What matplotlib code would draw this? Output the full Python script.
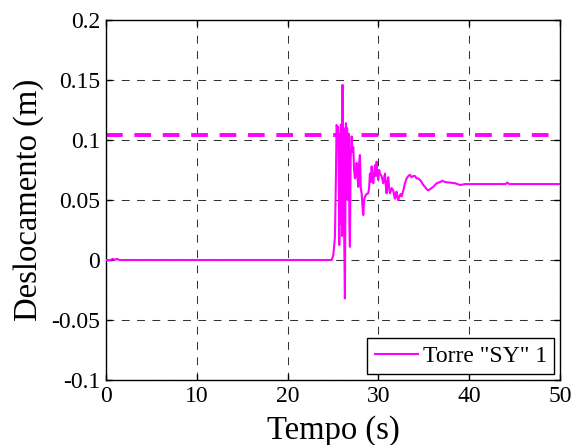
import matplotlib
matplotlib.use("Agg")
import matplotlib.pyplot as plt

plt.rcParams['font.family'] = ['Liberation Serif', 'DejaVu Serif']

# tower displacement time history, one line per 10 samples
tempo = [
    0.0, 0.5, 0.8, 1.0, 1.2, 1.5, 10.0, 20.0, 24.86, 25.04,
    25.22, 25.33, 25.40, 25.51, 25.59, 25.65, 25.70, 25.77, 25.82, 25.88,
    25.95, 26.00, 26.06, 26.12, 26.17, 26.24, 26.32, 26.38, 26.43, 26.50,
    26.56, 26.62, 26.69, 26.75, 26.81, 26.87, 26.95, 27.06, 27.15, 27.24,
    27.33, 27.42, 27.51, 27.61, 27.70, 27.79, 27.88, 27.97, 28.06, 28.16,
    28.25, 28.34, 28.43, 28.52, 28.70, 28.89, 28.98, 29.07, 29.16, 29.26,
    29.35, 29.44, 29.53, 29.63, 29.72, 29.81, 29.90, 29.99, 30.09, 30.18,
    30.36, 30.54, 30.63, 30.73, 30.82, 30.91, 31.00, 31.09, 31.18, 31.28,
    31.46, 31.64, 31.73, 31.83, 31.92, 32.01, 32.10, 32.20, 32.29, 32.38,
    32.47, 32.56, 32.75, 32.93, 33.11, 33.30, 33.48, 33.66, 33.85, 34.03,
    34.21, 34.40, 34.67, 34.95, 35.13, 35.32, 35.50, 35.68, 36.05, 36.42,
    36.78, 37.05, 37.33, 37.89, 38.44, 38.99, 39.54, 40.09, 40.82, 42.0,
    44.0, 44.2, 44.4, 46.0, 48.0, 50.0,
]
deslocamento = [
    0.0, 0.0, 0.001, 0.0, 0.001, 0.0, 0.0, 0.0, 0.0, 0.004,
    0.019, 0.069, 0.1125, 0.110, 0.111, 0.060, 0.0125, 0.105, 0.030, 0.113,
    0.090, 0.020, 0.146, 0.040, 0.110, 0.020, -0.032, 0.060, 0.114, 0.080,
    0.110, 0.050, 0.075, 0.105, 0.030, 0.011, 0.085, 0.103, 0.090, 0.094,
    0.075, 0.068, 0.070, 0.081, 0.070, 0.061, 0.080, 0.0875, 0.060, 0.0556,
    0.045, 0.0375, 0.050, 0.0528, 0.055, 0.0556, 0.060, 0.072, 0.065, 0.078,
    0.070, 0.064, 0.072, 0.079, 0.070, 0.082, 0.072, 0.067, 0.075, 0.072,
    0.070, 0.064, 0.068, 0.072, 0.062, 0.0556, 0.065, 0.069, 0.060, 0.0556,
    0.060, 0.058, 0.054, 0.051, 0.056, 0.057, 0.052, 0.050, 0.053, 0.054,
    0.055, 0.053, 0.058, 0.064, 0.068, 0.070, 0.071, 0.069, 0.070, 0.070,
    0.068, 0.068, 0.066, 0.0625, 0.061, 0.059, 0.058, 0.059, 0.061, 0.064,
    0.065, 0.066, 0.065, 0.0645, 0.064, 0.0625, 0.0633, 0.0633, 0.0633, 0.0633,
    0.0633, 0.0645, 0.0633, 0.0633, 0.0633, 0.0633,
]
limite = 0.104
legenda = 'Torre "SY" 1'

fig = plt.figure(figsize=(5.75, 4.45), dpi=100)
ax = fig.add_axes([0.184, 0.146, 0.79, 0.809])

ax.axhline(limite, color='#ff00ff', linestyle=(0, (4.3, 3.0)), linewidth=2.8, zorder=2)
ax.plot(tempo, deslocamento, color='#ff00ff', linewidth=1.5, label=legenda, zorder=3)

ax.set_xlim(0, 50)
ax.set_ylim(-0.1, 0.2)
ax.set_xticks([0, 10, 20, 30, 40, 50])
ax.set_yticks([-0.1, -0.05, 0, 0.05, 0.1, 0.15, 0.2])
ax.set_yticklabels(['-0.1', '-0.05', '0', '0.05', '0.1', '0.15', '0.2'])
ax.tick_params(direction='in', labelsize=17, top=True, right=True, length=4,
               width=1, pad=4)
ax.grid(True, color='#333333', linestyle=(0, (7.5, 7.2)), linewidth=0.75)
for s in ax.spines.values():
    s.set_linewidth(1)

ax.set_xlabel('Tempo (s)', fontsize=23.5, labelpad=6)
ax.set_ylabel('Deslocamento (m)', fontsize=23.5, labelpad=5)

leg = ax.legend(loc='lower right', fontsize=17, fancybox=False, framealpha=1,
                edgecolor='black', borderpad=0.3, handlelength=1.85,
                borderaxespad=0.25, handletextpad=0.2)
leg.get_frame().set_linewidth(1)

fig.savefig('out.png', dpi=100)
